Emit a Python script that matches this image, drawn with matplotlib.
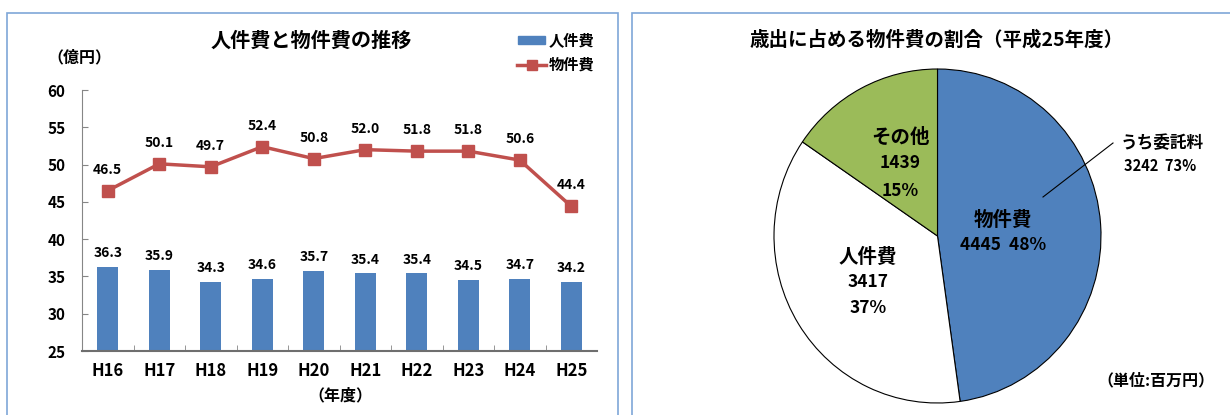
import matplotlib
matplotlib.use("Agg")
import matplotlib.pyplot as plt
from matplotlib.patches import Rectangle
from matplotlib.lines import Line2D

plt.rcParams['font.family'] = ['Noto Sans CJK JP', 'DejaVu Sans']
plt.rcParams['font.weight'] = 'bold'

# ---- data ----
years = ["H16", "H17", "H18", "H19", "H20", "H21", "H22", "H23", "H24", "H25"]
personnel = [36.3, 35.9, 34.3, 34.6, 35.7, 35.4, 35.4, 34.5, 34.7, 34.2]
goods = [46.5, 50.1, 49.7, 52.4, 50.8, 52.0, 51.8, 51.8, 50.6, 44.4]
yticks = [25, 30, 35, 40, 45, 50, 55, 60]

pie_labels = ["物件費", "人件費", "その他"]
pie_values = [4445, 3417, 1439]
pie_pcts = [48, 37, 15]
consign_value = 3242
consign_pct = 73

W, H = 1230, 415
fig = plt.figure(figsize=(W / 100, H / 100), dpi=100)

def fx(x):
    return x / W

def fy(y):
    return 1 - y / H

border_col = "#7FA7D8"
# panel borders
fig.patches.append(Rectangle((fx(7), fy(430)), fx(618) - fx(7), fy(13) - fy(430),
                             transform=fig.transFigure, fill=False, ec=border_col, lw=1.2))
fig.patches.append(Rectangle((fx(632), fy(430)), fx(1245) - fx(632), fy(13) - fy(430),
                             transform=fig.transFigure, fill=False, ec=border_col, lw=1.2))

blue = "#4F81BD"
red = "#C0504D"
green = "#9BBB59"

# ---- left: bar + line ----
ax = fig.add_axes([fx(82), fy(351), fx(597) - fx(82), fy(90) - fy(351)])
x = list(range(len(years)))
ax.bar(x, personnel, width=0.4, color=blue, zorder=2)
ax.plot(x, goods, color=red, lw=2.5, marker="s", ms=8, zorder=3)
ax.set_ylim(25, 60)
ax.set_xlim(-0.5, len(years) - 0.5)
ax.set_yticks(yticks)
ax.set_yticklabels([str(v) for v in yticks], fontsize=11, fontweight="bold")
ax.set_xticks(x)
ax.set_xticklabels(years, fontsize=12, fontweight="bold")
ax.set_xticks([i + 0.5 for i in x[:-1]], minor=True)
ax.tick_params(axis="x", which="major", length=0, pad=8)
ax.tick_params(axis="x", which="minor", direction="in", length=4, color="#868686")
ax.tick_params(axis="y", direction="in", length=4, color="#868686", pad=12)
for s in ["top", "right"]:
    ax.spines[s].set_visible(False)
ax.spines["left"].set_color("#868686")
ax.spines["left"].set_linewidth(0.8)
ax.spines["bottom"].set_color("#6E6E6E")
ax.spines["bottom"].set_linewidth(1.5)
ax.set_facecolor("none")

for i, v in enumerate(personnel):
    ax.annotate(f"{v:.1f}", (i, v), xytext=(0, 5), textcoords="offset points",
                ha="center", va="bottom", fontsize=10, fontweight="bold")
for i, v in enumerate(goods):
    ax.annotate(f"{v:.1f}", (i, v), xytext=(0, 10), textcoords="offset points",
                ha="center", va="bottom", fontsize=10, fontweight="bold")

fig.text(fx(311), fy(40), "人件費と物件費の推移", ha="center", va="center",
         fontsize=14.5, fontweight="bold")
fig.text(fx(79), fy(57), "（億円）", ha="center", va="center", fontsize=11.5, fontweight="bold")
fig.text(fx(340), fy(395), "（年度）", ha="center", va="center", fontsize=11.5, fontweight="bold")

# legend (manual)
fig.patches.append(Rectangle((fx(518), fy(44)), fx(545) - fx(518), fy(36) - fy(44),
                             transform=fig.transFigure, color=blue))
fig.text(fx(549), fy(40), "人件費", ha="left", va="center", fontsize=11, fontweight="bold")
fig.lines.append(Line2D([fx(517), fx(546)], [fy(65), fy(65)], transform=fig.transFigure,
                        color=red, lw=2.5))
fig.lines.append(Line2D([fx(531.5)], [fy(65)], transform=fig.transFigure,
                        color=red, marker="s", ms=7, lw=0))
fig.text(fx(549), fy(65), "物件費", ha="left", va="center", fontsize=11, fontweight="bold")

# ---- right: pie ----
pax = fig.add_axes([fx(774), fy(403), fx(1101) - fx(774), fy(69) - fy(403)])
pax.pie(pie_values, colors=[blue, "white", green], startangle=90, counterclock=False,
        wedgeprops=dict(edgecolor="black", linewidth=0.8))
pax.set_aspect("auto")
pax.set_xlim(-1, 1)
pax.set_ylim(-1, 1)

fig.text(fx(937), fy(40), "歳出に占める物件費の割合（平成25年度）", ha="center", va="center",
         fontsize=14, fontweight="bold")

fs = 14
ns = 12.5
fig.text(fx(1003), fy(220), pie_labels[0], ha="center", va="center", fontsize=fs, fontweight="bold")
fig.text(fx(1003), fy(245), f"{pie_values[0]}  {pie_pcts[0]}%", ha="center", va="center",
         fontsize=ns, fontweight="bold")
fig.text(fx(868), fy(257), pie_labels[1], ha="center", va="center", fontsize=fs, fontweight="bold")
fig.text(fx(868), fy(282), f"{pie_values[1]}", ha="center", va="center", fontsize=ns, fontweight="bold")
fig.text(fx(868), fy(308), f"{pie_pcts[1]}%", ha="center", va="center", fontsize=ns, fontweight="bold")
fig.text(fx(900), fy(137), pie_labels[2], ha="center", va="center", fontsize=fs, fontweight="bold")
fig.text(fx(900), fy(163), f"{pie_values[2]}", ha="center", va="center", fontsize=ns, fontweight="bold")
fig.text(fx(900), fy(191), f"{pie_pcts[2]}%", ha="center", va="center", fontsize=ns, fontweight="bold")

fig.lines.append(Line2D([fx(1043), fx(1113)], [fy(197), fy(143)], transform=fig.transFigure,
                        color="black", lw=0.8))
fig.text(fx(1121), fy(143), "うち委託料", ha="left", va="center", fontsize=12, fontweight="bold")
fig.text(fx(1124), fy(166), f"{consign_value}  {consign_pct}%", ha="left", va="center",
         fontsize=10.5, fontweight="bold")
fig.text(fx(1097), fy(380), "（単位:百万円）", ha="left", va="center", fontsize=11.5, fontweight="bold")

fig.savefig("out.png", dpi=100)
